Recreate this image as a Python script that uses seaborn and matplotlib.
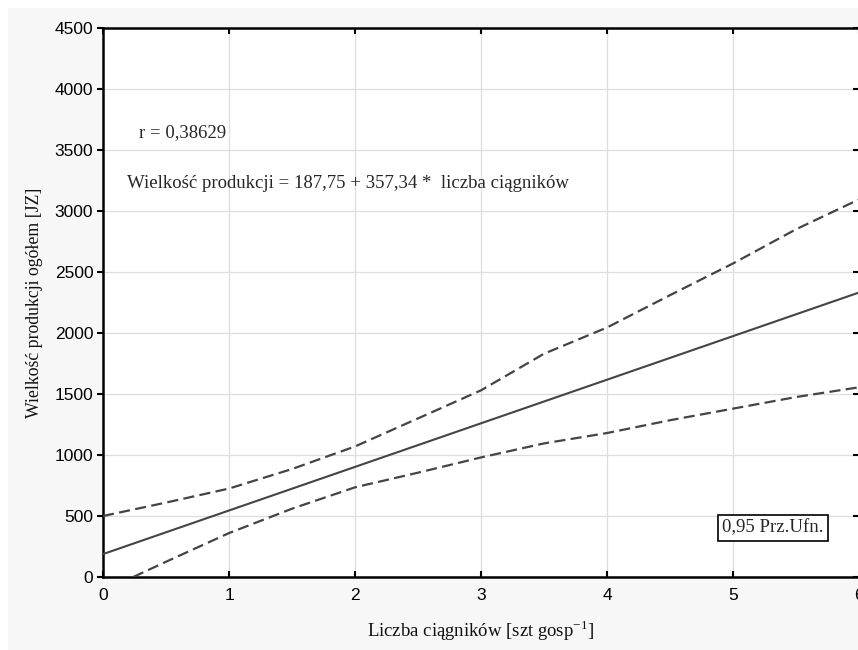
import matplotlib
matplotlib.use("Agg")
import matplotlib.pyplot as plt
import matplotlib.patches as mpatches
import matplotlib.lines as mlines
import seaborn as sns
import pandas as pd

# ---- data ----
fit_x = [0.0, 6.0]
fit_y = [187.75, 2331.79]

upper_x = [0.0, 0.5, 1.0, 1.5, 2.0, 2.5, 3.0, 3.5, 4.0, 4.5, 5.0, 5.5, 6.0]
upper_y = [500, 610, 725, 885, 1070, 1300, 1530, 1830, 2045, 2310, 2570, 2850, 3095]

lower_x = [0.24, 0.5, 1.0, 1.5, 2.0, 2.5, 3.0, 3.5, 4.0, 4.5, 5.0, 5.5, 6.0]
lower_y = [0, 125, 360, 560, 735, 855, 980, 1095, 1180, 1285, 1380, 1475, 1555]

x_ticks = [0, 1, 2, 3, 4, 5, 6]
y_ticks = [0, 500, 1000, 1500, 2000, 2500, 3000, 3500, 4000, 4500]

r_text = "r = 0,38629"
eq_text = "Wielkość produkcji = 187,75 + 357,34 *  liczba ciągników"
legend_text = "0,95 Prz.Ufn."
xlabel = "Liczba ciągników [szt gosp$^{-1}$]"
ylabel = "Wielkość produkcji ogółem [JZ]"

sns.set_theme(style="white")
plt.rcParams['font.family'] = ['Liberation Sans', 'DejaVu Sans']
plt.rcParams['mathtext.fontset'] = 'custom'
plt.rcParams['mathtext.rm'] = 'Liberation Serif'

W, H = 858, 650
fig = plt.figure(figsize=(W / 100, H / 100), dpi=100, facecolor="white")
# gray page background with thin white margin top/left
fig.patches.append(mpatches.Rectangle((8 / W, 0), 1, (H - 8) / H, transform=fig.transFigure,
                                      facecolor="#f7f7f7", edgecolor="none", zorder=-10))

ax = fig.add_axes([103 / W, (H - 577) / H, (859 - 103) / W, (577 - 28) / H])
ax.set_facecolor("white")

line_color = "#444444"
df_fit = pd.DataFrame({"x": fit_x, "y": fit_y})
df_up = pd.DataFrame({"x": upper_x, "y": upper_y})
df_lo = pd.DataFrame({"x": lower_x, "y": lower_y})

sns.lineplot(data=df_fit, x="x", y="y", ax=ax, color=line_color, linewidth=1.5, zorder=3)
sns.lineplot(data=df_up, x="x", y="y", ax=ax, color=line_color, linewidth=1.6,
             linestyle=(0, (5, 2.4)), zorder=3)
sns.lineplot(data=df_lo, x="x", y="y", ax=ax, color=line_color, linewidth=1.6,
             linestyle=(0, (5, 2.4)), zorder=3)

ax.set_xlim(0, 6)
ax.set_ylim(0, 4500)
ax.set_xticks(x_ticks)
ax.set_yticks(y_ticks)
ax.grid(True, color="#dddddd", linewidth=0.9)
ax.set_axisbelow(True)

for s in ax.spines.values():
    s.set_visible(True)
    s.set_color("black")
    s.set_linewidth(1.8)

ax.tick_params(axis="x", direction="in", top=True, bottom=True, length=4, width=1.5,
               labelsize=12.5, colors="black", pad=8)
ax.tick_params(axis="y", direction="out", left=True, right=True, length=4, width=1.5,
               labelsize=12.5, colors="black", pad=3)
# right-side ticks point inward
for t in ax.yaxis.get_major_ticks():
    t.tick2line.set_marker(mlines.TICKLEFT)

serif = "Liberation Serif"
fs = 13.5
ax.set_xlabel(xlabel, family=serif, fontsize=fs, color="#111111", labelpad=11)
ax.set_ylabel(ylabel, family=serif, fontsize=12.8, color="#111111", labelpad=8)

fig.text(139 / W, 1 - 133 / H, r_text, fontsize=fs, family=serif,
         va="center", ha="left")
fig.text(127 / W, 1 - 183 / H, eq_text, fontsize=fs, family=serif,
         va="center", ha="left")
fig.text(773 / W, 1 - 528 / H, legend_text, fontsize=fs, family=serif,
         va="center", ha="center",
         bbox=dict(boxstyle="square,pad=0.25", facecolor="white", edgecolor="black", linewidth=1.2))

fig.savefig("out.png", dpi=100, facecolor=fig.get_facecolor())
